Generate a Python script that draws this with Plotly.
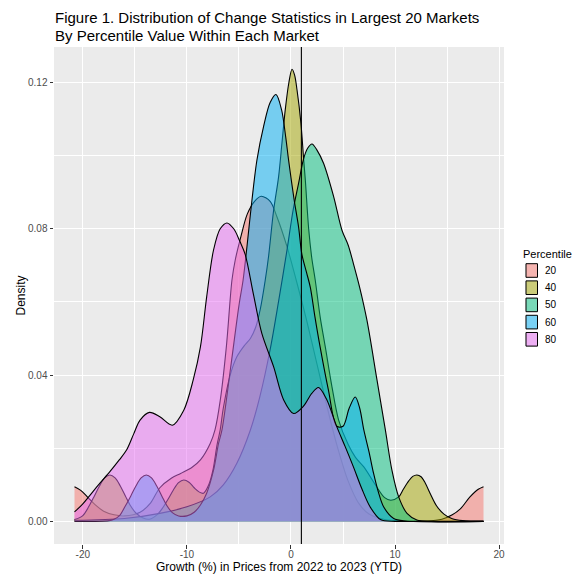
import plotly.graph_objects as go

# ---------------- data ----------------
percentiles = ["20", "40", "50", "60", "80"]
colors = ["#F8766D", "#A3A500", "#00BF7D", "#00B0F6", "#E76BF3"]

x_p20 = [-20.8, -20.2, -19.5, -18.8, -18, -17, -16, -14.5, -13.5, -12.6, -11.5, -10.6, -9.5, -8.7,
         -7.76, -7.3, -6.8, -6.2, -5.67, -5.36, -4.8, -4.2, -3.5, -2.86, -2.0, -1.35, -0.38, 0.5, 1.5,
         2.5, 3.5, 4.4, 5.5, 6.5, 7.5, 9, 11, 13, 14.5, 15.5, 16.3, 17.2, 18, 18.5]
d_p20 = [0.0095, 0.0085, 0.0065, 0.0045, 0.0028, 0.0018, 0.0015, 0.0025, 0.0050, 0.0092, 0.0118,
         0.0131, 0.0148, 0.0168, 0.0213, 0.0250, 0.0330, 0.0480, 0.0660, 0.0714, 0.0780, 0.0840,
         0.0875, 0.0889, 0.0875, 0.0833, 0.0751, 0.0660, 0.0550, 0.0430, 0.0310, 0.0210, 0.0110,
         0.0050, 0.0020, 0.0005, 0.0001, 0.0001, 0.0006, 0.0018, 0.0035, 0.0067, 0.0088, 0.0095]

x_p40 = [-20.8, -20.0, -19.4, -18.9, -18.4, -17.9, -17.4, -16.9, -16.4, -15.9, -15.4, -14.9, -14.2,
         -13.6, -12.8, -12.3, -11.8, -11.3, -10.8, -10.3, -9.8, -9.3, -8.8, -8.4, -7.9, -7.5, -7.1,
         -6.8, -6.5, -5.84, -5.2, -4.5, -3.9, -3.4, -2.95, -2.47, -2.15, -1.67, -1.19, -0.87, -0.55,
         -0.2, 0.1, 0.35, 0.58, 0.96, 1.2, 1.38, 1.7, 2.0, 2.33, 2.8, 3.3, 3.94, 4.58, 5.5, 6.2, 7.0,
         8.0, 9.0, 9.6, 10.35, 10.8, 11.3, 11.7, 12.1, 12.5, 12.9, 13.4, 14.0, 14.7, 15.5, 16.5, 18.5]
d_p40 = [0.0005, 0.0016, 0.0042, 0.0069, 0.0097, 0.0119, 0.0127, 0.0119, 0.0097, 0.0069, 0.0042,
         0.0023, 0.0009, 0.0006, 0.0020, 0.0038, 0.0061, 0.0086, 0.0106, 0.0113, 0.0107, 0.0092,
         0.0080, 0.0077, 0.0100, 0.0140, 0.0210, 0.0250, 0.0310, 0.0400, 0.0450, 0.0480, 0.0500,
         0.0530, 0.0580, 0.0660, 0.0725, 0.0850, 0.0942, 0.1033, 0.1125, 0.1200, 0.1236, 0.1220,
         0.1180, 0.1088, 0.0997, 0.0933, 0.0800, 0.0720, 0.0660, 0.0560, 0.0477, 0.0368, 0.0277,
         0.0210, 0.0175, 0.0149, 0.0105, 0.0065, 0.0058, 0.0067, 0.0088, 0.0110, 0.0123, 0.0127,
         0.0122, 0.0105, 0.0075, 0.0042, 0.0020, 0.0007, 0.0002, 0.0]

x_p50 = [-20.8, -16, -12.6, -10, -7.76, -6.5, -5.2, -3.9, -3.0, -2.0, -1.2, -0.38, 0.2, 0.73, 1.2,
         1.6, 2.02, 2.5, 3.13, 4.1, 4.9, 5.5, 6.0, 6.6, 7.3, 8.27, 9.07, 9.7, 10.35, 11.15, 12.1,
         13.5, 18.5]
d_p50 = [0.0003, 0.0008, 0.0022, 0.0040, 0.0067, 0.0100, 0.0159, 0.0250, 0.0340, 0.0470, 0.0600,
         0.0742, 0.0850, 0.0924, 0.0990, 0.1020, 0.1032, 0.1015, 0.0979, 0.0888, 0.0796, 0.0755,
         0.0705, 0.0640, 0.0550, 0.0386, 0.0250, 0.0140, 0.0067, 0.0022, 0.0004, 0.0, 0.0]

x_p60 = [-20.8, -17.5, -17.0, -16.5, -16.0, -15.4, -14.9, -14.4, -13.9, -13.4, -12.9, -12.4, -11.9,
         -11.4, -10.8, -10.0, -9.3, -8.7, -8.1, -7.44, -6.96, -6.63, -5.8, -5.0, -4.6, -4.23, -3.75,
         -3.27, -2.63, -2.0, -1.44, -0.9, -0.5, -0.23, 0.3, 0.73, 1.05, 1.5, 1.86, 2.3, 2.8, 3.6,
         4.4, 5.0, 5.6, 6.18, 6.6, 7.0, 7.5, 7.94, 8.4, 8.9, 9.87, 11, 18.5]
d_p60 = [0.0, 0.0002, 0.0006, 0.0015, 0.0038, 0.0069, 0.0097, 0.0119, 0.0127, 0.0119, 0.0097, 0.0069,
         0.0042, 0.0024, 0.0015, 0.0015, 0.0025, 0.0045, 0.0077, 0.0140, 0.0213, 0.0250, 0.0420,
         0.0590, 0.0660, 0.0751, 0.0878, 0.0988, 0.1080, 0.1145, 0.1167, 0.1125, 0.1050, 0.0988,
         0.0880, 0.0805, 0.0730, 0.0680, 0.0640, 0.0560, 0.0477, 0.0359, 0.0260, 0.0260, 0.0310,
         0.0340, 0.0310, 0.0250, 0.0190, 0.0131, 0.0080, 0.0040, 0.0008, 0.0001, 0.0]

x_p80 = [-20.8, -20, -19.3, -18.5, -17.4, -16.5, -15.8, -15.1, -14.5, -13.6, -12.6, -11.4, -10.3,
         -9.4, -8.7, -8.1, -7.44, -6.8, -6.15, -5.5, -4.9, -4.4, -3.6, -2.8, -1.67, -0.7, 0.25, 1.2,
         2.0, 2.65, 3.4, 4.4, 5.2, 6.0, 6.8, 7.6, 8.6, 10, 12, 14, 16, 18.5]
d_p80 = [0.0026, 0.0048, 0.0072, 0.0100, 0.0136, 0.0168, 0.0195, 0.0240, 0.0277, 0.0298, 0.0286,
         0.0263, 0.0304, 0.0386, 0.0477, 0.0614, 0.0742, 0.0800, 0.0816, 0.0800, 0.0765, 0.0730,
         0.0620, 0.0514, 0.0423, 0.0332, 0.0295, 0.0315, 0.0350, 0.0366, 0.0335, 0.0259, 0.0205,
         0.0149, 0.0090, 0.0040, 0.0005, 0.0, 0.0, 0.0, 0.0, 0.0]

xs = [x_p20, x_p40, x_p50, x_p60, x_p80]
ds = [d_p20, d_p40, d_p50, d_p60, d_p80]
vline_x = 1.0

x_ticks = [-20, -10, 0, 10, 20]
y_ticks = [0.00, 0.04, 0.08, 0.12]
y_tick_labels = ["0.00", "0.04", "0.08", "0.12"]

title_lines = ["Figure 1. Distribution of Change Statistics in Largest 20 Markets",
               "By Percentile Value Within Each Market"]
x_title = "Growth (%) in Prices from 2022 to 2023 (YTD)"
y_title = "Density"
legend_title = "Percentile"

# ---------------- layout geometry ----------------
W, H = 572, 576
PL, PR, PT, PB = 54, 504, 47, 544   # panel edges in px


def px_x(p):
    return (p - PL) / (PR - PL)


def px_y(p):
    return (PB - p) / (PB - PT)


def rgba(hexc, a):
    h = hexc.lstrip("#")
    r, g, b = int(h[0:2], 16), int(h[2:4], 16), int(h[4:6], 16)
    return f"rgba({r},{g},{b},{a})"


FONT = "Liberation Sans, Arial, Helvetica, sans-serif"

fig = go.Figure()
for name, col, x, d in zip(percentiles, colors, xs, ds):
    fig.add_trace(go.Scatter(
        x=x, y=d, name=name, mode="lines",
        line=dict(color="black", width=1.1, shape="spline", smoothing=0.9),
        fill="tozeroy", fillcolor=rgba(col, 0.5),
        hoverinfo="skip", showlegend=False,
    ))

shapes = [dict(type="line", xref="x", yref="paper", x0=vline_x, x1=vline_x, y0=0, y1=1,
               line=dict(color="black", width=1.1), layer="above")]
annotations = []

# titles
annotations.append(dict(text=title_lines[0], xref="paper", yref="paper", x=px_x(PL - 1), y=px_y(18),
                        xanchor="left", yanchor="middle", showarrow=False,
                        font=dict(family=FONT, size=15, color="black")))
annotations.append(dict(text=title_lines[1], xref="paper", yref="paper", x=px_x(PL - 1), y=px_y(35),
                        xanchor="left", yanchor="middle", showarrow=False,
                        font=dict(family=FONT, size=15, color="black")))
annotations.append(dict(text=x_title, xref="paper", yref="paper", x=0.5, y=px_y(567),
                        xanchor="center", yanchor="middle", showarrow=False,
                        font=dict(family=FONT, size=12, color="black")))
annotations.append(dict(text=y_title, xref="paper", yref="paper", x=px_x(20), y=0.5,
                        xanchor="center", yanchor="middle", showarrow=False, textangle=-90,
                        font=dict(family=FONT, size=12, color="black")))

# legend (manual, ggplot-like)
annotations.append(dict(text=legend_title, xref="paper", yref="paper", x=px_x(520.5), y=px_y(254),
                        xanchor="left", yanchor="middle", showarrow=False,
                        font=dict(family=FONT, size=11, color="black")))
key_y0 = 270.5
key_step = 17.2
for i, (name, col) in enumerate(zip(percentiles, colors)):
    cy = key_y0 + i * key_step
    shapes.append(dict(type="rect", xref="paper", yref="paper",
                       x0=px_x(525), x1=px_x(538), y0=px_y(cy - 7.5), y1=px_y(cy + 7.5),
                       fillcolor="#F2F2F2", line=dict(width=0), layer="above"))
    shapes.append(dict(type="rect", xref="paper", yref="paper",
                       x0=px_x(526), x1=px_x(537.5), y0=px_y(cy - 6.8), y1=px_y(cy + 6.8),
                       fillcolor=rgba(col, 0.5), line=dict(color="black", width=1), layer="above"))
    annotations.append(dict(text=name, xref="paper", yref="paper", x=px_x(543), y=px_y(cy),
                            xanchor="left", yanchor="middle", showarrow=False,
                            font=dict(family=FONT, size=10, color="black")))

fig.update_layout(
    width=W, height=H,
    margin=dict(l=PL, r=W - PR, t=PT, b=H - PB, pad=0),
    paper_bgcolor="white", plot_bgcolor="#EBEBEB",
    font=dict(family=FONT, color="#4D4D4D"),
    shapes=shapes, annotations=annotations,
    showlegend=False,
)
fig.update_xaxes(
    range=[-22.77, 20.47], tickmode="array", tickvals=x_ticks, ticktext=[str(t) for t in x_ticks],
    showgrid=True, gridcolor="white", gridwidth=1.1, zeroline=False, showline=False,
    ticks="outside", ticklen=3.5, tickwidth=1.1, tickcolor="#333333", ticklabelstandoff=-3,
    tickfont=dict(family=FONT, size=10, color="#4D4D4D"),
    minor=dict(tickmode="array", tickvals=[-15, -5, 5, 15], showgrid=True,
               gridcolor="white", gridwidth=0.55, ticks=""),
    fixedrange=True,
)
fig.update_yaxes(
    range=[-0.00618, 0.1297], tickmode="array", tickvals=y_ticks, ticktext=y_tick_labels,
    showgrid=True, gridcolor="white", gridwidth=1.1, zeroline=False, showline=False,
    ticks="outside", ticklen=3.5, tickwidth=1.1, tickcolor="#333333",
    tickfont=dict(family=FONT, size=10, color="#4D4D4D"),
    minor=dict(tickmode="array", tickvals=[0.02, 0.06, 0.10], showgrid=True,
               gridcolor="white", gridwidth=0.55, ticks=""),
    fixedrange=True,
)

fig.write_html("out.html", config={"displayModeBar": False},
               post_script="document.body.style.margin='0px';document.body.style.overflow='hidden';")
